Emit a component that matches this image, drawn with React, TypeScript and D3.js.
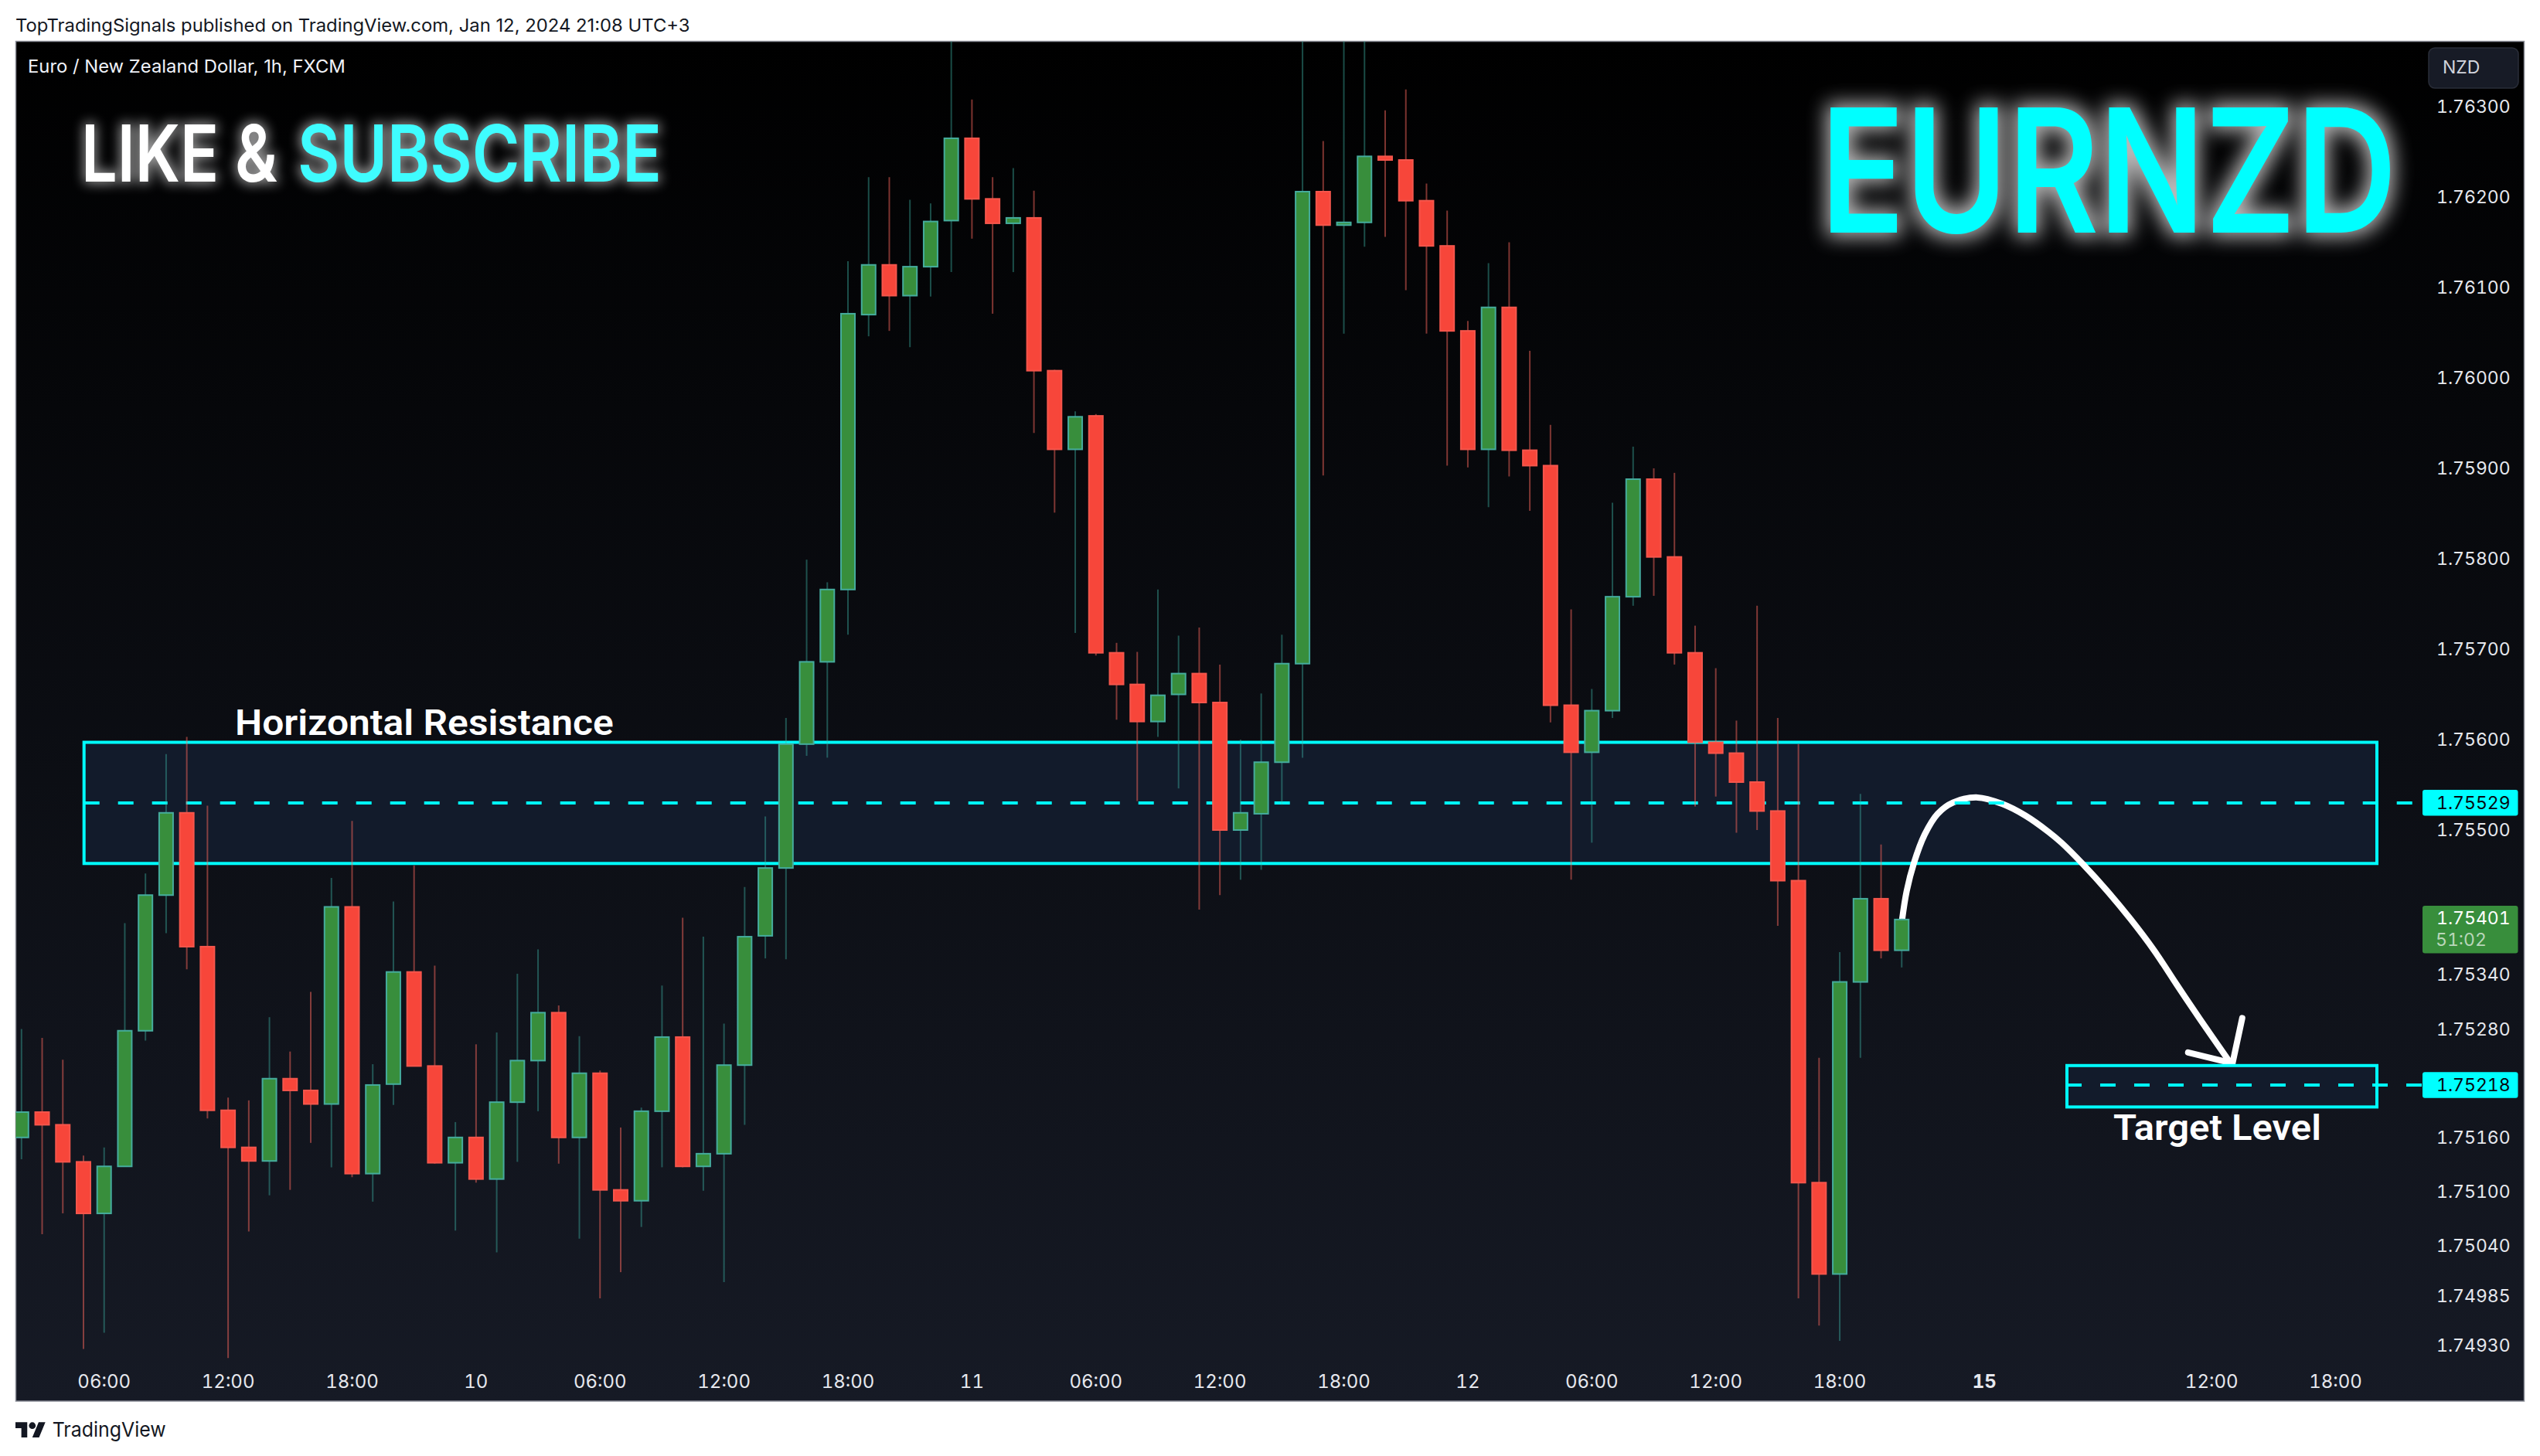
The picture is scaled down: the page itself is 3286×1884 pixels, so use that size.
import React, { useLayoutEffect, useRef } from "react";
import * as d3 from "d3";

const opens = [1.7516,1.75188,1.75174,1.75133,1.75076,1.75128,1.75278,1.75428,1.75519,1.75371,1.7519,1.75149,1.75134,1.75225,1.75212,1.75197,1.75415,1.7512,1.75219,1.75343,1.75239,1.75132,1.7516,1.75114,1.75199,1.75245,1.75298,1.7516,1.75231,1.75102,1.7509,1.75189,1.75271,1.75128,1.75142,1.7524,1.75383,1.75458,1.75595,1.75686,1.75766,1.7607,1.76125,1.76091,1.76123,1.76174,1.76265,1.76198,1.76171,1.76177,1.76008,1.75921,1.75958,1.75696,1.75661,1.7562,1.7565,1.75673,1.75641,1.755,1.75518,1.75575,1.75684,1.76206,1.76169,1.76172,1.76245,1.76241,1.76196,1.76146,1.76052,1.75921,1.76078,1.7592,1.75903,1.75638,1.75586,1.75632,1.75758,1.75888,1.75802,1.75696,1.75597,1.75585,1.75553,1.75521,1.75444,1.7511,1.75009,1.75332,1.75424,1.75367];
const highs = [1.7528,1.7527,1.75246,1.7514,1.75149,1.75397,1.75452,1.75584,1.75603,1.75527,1.75204,1.75201,1.75293,1.75255,1.75321,1.75447,1.7551,1.75241,1.75421,1.75461,1.7535,1.75177,1.75263,1.75276,1.75341,1.75368,1.75306,1.75272,1.75234,1.75171,1.75193,1.75328,1.75403,1.75382,1.75286,1.75437,1.75515,1.75624,1.75799,1.75774,1.76129,1.76222,1.76222,1.76197,1.76193,1.764,1.76308,1.76222,1.76232,1.76207,1.76009,1.75963,1.7596,1.75707,1.75697,1.75766,1.75715,1.75724,1.75683,1.756,1.75651,1.75716,1.764,1.76262,1.764,1.764,1.76296,1.76319,1.76215,1.76185,1.76063,1.76127,1.7615,1.7603,1.75948,1.75744,1.75656,1.75862,1.75924,1.759,1.75895,1.75726,1.75679,1.75621,1.75748,1.75624,1.75595,1.75248,1.75365,1.7554,1.75484,1.75402];
const lows = [1.75136,1.75053,1.75076,1.74926,1.74944,1.75128,1.75267,1.75386,1.75346,1.75181,1.74916,1.75056,1.75096,1.75102,1.75154,1.75127,1.75116,1.75089,1.75196,1.75239,1.75131,1.75057,1.7511,1.75033,1.75133,1.75189,1.75131,1.75048,1.74982,1.75011,1.75061,1.75127,1.75127,1.75101,1.75,1.75174,1.75358,1.75357,1.75582,1.7558,1.75716,1.76046,1.76052,1.76034,1.7609,1.76117,1.76154,1.76071,1.76117,1.75939,1.75851,1.75718,1.75693,1.75622,1.75532,1.75603,1.75546,1.75412,1.75428,1.75445,1.75456,1.75528,1.7558,1.75892,1.76049,1.76145,1.76156,1.76097,1.76049,1.75903,1.75901,1.75857,1.75891,1.75853,1.75619,1.75445,1.75486,1.75624,1.75748,1.75759,1.75683,1.75526,1.75537,1.75497,1.755,1.75394,1.74982,1.74952,1.74935,1.75248,1.75358,1.75348];
const closes = [1.75188,1.75174,1.75133,1.75076,1.75128,1.75278,1.75428,1.75519,1.75371,1.7519,1.75149,1.75134,1.75225,1.75212,1.75197,1.75415,1.7512,1.75218,1.75343,1.75239,1.75132,1.7516,1.75114,1.75199,1.75245,1.75298,1.7516,1.75231,1.75102,1.7509,1.75189,1.75271,1.75128,1.75142,1.7524,1.75382,1.75458,1.75595,1.75686,1.75766,1.76071,1.76125,1.76091,1.76123,1.76173,1.76265,1.76198,1.76171,1.76177,1.76008,1.75921,1.75957,1.75696,1.75661,1.7562,1.75649,1.75673,1.75641,1.755,1.75519,1.75575,1.75684,1.76206,1.76169,1.76172,1.76245,1.76241,1.76196,1.76146,1.76052,1.75921,1.76078,1.7592,1.75903,1.75638,1.75586,1.75632,1.75758,1.75888,1.75802,1.75696,1.75597,1.75585,1.75553,1.75521,1.75444,1.7511,1.75009,1.75332,1.75424,1.75367,1.75401];

const priceTicks = [1.763,1.762,1.761,1.76,1.759,1.758,1.757,1.756,1.755,1.7534,1.7528,1.7516,1.751,1.7504,1.74985,1.7493];
const timeTickIndex = [4,10,16,22,28,34,40,46,52,58,64,70,76,82,88,95,106,112];
const timeTickLabels = ["06:00","12:00","18:00","10","06:00","12:00","18:00","11","06:00","12:00","18:00","12","06:00","12:00","18:00","15","12:00","18:00"];

const resistanceTop = 1.75597;
const resistanceBottom = 1.75463;
const resistanceMid = 1.7553;
const targetTop = 1.752395;
const targetBottom = 1.751937;
const targetMid = 1.75218;

const curveIndex = [91.02,91.24,91.59,92.11,92.74,93.49,94.67,95.85,96.98,98.1,98.73,99.78,100.97,102.09,103.21,104.34,105.46,106.89];
const curvePrice = [1.75401,1.754325,1.754635,1.75495,1.75518,1.755305,1.75536,1.75529,1.75516,1.75498,1.75486,1.75462,1.75432,1.75401,1.75367,1.75328,1.7529,1.75243];
const headIndex = [104.86,107.01,107.48];
const headPrice = [1.75254,1.75242,1.75292];

const W = 3286, H = 1884;
const L = 20.5, R = 3265.5, T = 53.5, B = 1813;

const x = d3.scaleLinear().domain([0, 112]).range([27.8, 3021.6]);
const y = d3.scaleLinear().domain([1.763, 1.7493]).range([138, 1740.9]);

const CYAN = "#00ffff";
const AXIS = "Inter, 'Noto Sans', sans-serif";
const TNUM: React.CSSProperties = { fontFeatureSettings: "'tnum' 1" };

const curvePath = d3.line<number>().x(d => x(curveIndex[d])).y(d => y(curvePrice[d])).curve(d3.curveCatmullRom.alpha(0.5))(curveIndex.map((_, i) => i)) || "";
const headPath = d3.line<number>().x(d => x(headIndex[d])).y(d => y(headPrice[d]))(headIndex.map((_, i) => i)) || "";

function FitText({ px, py, width, children, ...rest }: any) {
  const ref = useRef<SVGTextElement>(null);
  useLayoutEffect(() => {
    const n = ref.current;
    if (!n) return;
    const len = n.getComputedTextLength();
    d3.select(n).attr("transform", `translate(${px},${py}) scale(${width / len},1)`);
  });
  return <text ref={ref} x={0} y={0} transform={`translate(${px},${py})`} {...rest}>{children}</text>;
}

export default function App() {
  const bw = 18;
  return (
    <svg width={W} height={H} viewBox={`0 0 ${W} ${H}`} style={{ position: "absolute", left: 0, top: 0, display: "block", background: "#fff" }}>
      <defs>
        <linearGradient id="bg" x1="0" y1="0" x2="0" y2="1">
          <stop offset="0" stopColor="#000000" />
          <stop offset="1" stopColor="#161a25" />
        </linearGradient>
        <clipPath id="plot"><rect x={L} y={T} width={R - L} height={B - T} /></clipPath>
        <filter id="glow" filterUnits="userSpaceOnUse" x="2280" y="60" width="900" height="320" colorInterpolationFilters="sRGB">
          <feMorphology in="SourceAlpha" operator="dilate" radius="5" result="m" />
          <feGaussianBlur in="m" stdDeviation="13" result="b" />
          <feFlood floodColor="#ffffff" floodOpacity="0.72" />
          <feComposite in2="b" operator="in" result="g" />
          <feMerge><feMergeNode in="g" /><feMergeNode in="SourceGraphic" /></feMerge>
        </filter>
        <filter id="glow2" filterUnits="userSpaceOnUse" x="60" y="110" width="840" height="180" colorInterpolationFilters="sRGB">
          <feMorphology in="SourceAlpha" operator="dilate" radius="2" result="m" />
          <feGaussianBlur in="m" stdDeviation="8" result="b" />
          <feFlood floodColor="#ffffff" floodOpacity="0.62" />
          <feComposite in2="b" operator="in" result="g" />
          <feMerge><feMergeNode in="g" /><feMergeNode in="SourceGraphic" /></feMerge>
        </filter>
      </defs>

      <FitText px={20} py={41} width={873} fontFamily={AXIS} fontSize={23} fill="#131722">TopTradingSignals published on TradingView.com, Jan 12, 2024 21:08 UTC+3</FitText>

      <rect x={L} y={T} width={R - L} height={B - T} fill="url(#bg)" stroke="#8a8d96" strokeWidth={1.5} />

      <FitText px={36} py={94} width={411} fontFamily={AXIS} fontSize={23} fill="#f0f3fa">Euro / New Zealand Dollar, 1h, FXCM</FitText>

      <g filter="url(#glow2)" fontFamily={AXIS} fontWeight={600} fontSize={102}>
        <FitText px={105} py={235} width={254} fill="#ffffff">LIKE &amp;</FitText>
        <FitText px={385} py={235} width={471} fill="#3ffcff">SUBSCRIBE</FitText>
      </g>
      <g filter="url(#glow)">
        <FitText px={2355} py={300.7} width={746} fontFamily={AXIS} fontWeight={600} fontSize={223} fill={CYAN}>EURNZD</FitText>
      </g>

      {/* zones, curve, then dashed levels and candles on top */}
      <rect x={108.7} y={y(resistanceTop)} width={3075 - 108.7} height={y(resistanceBottom) - y(resistanceTop)} fill="#121b2b" stroke={CYAN} strokeWidth={4} />
      <path d={curvePath} fill="none" stroke="#fff" strokeWidth={8} strokeLinecap="round" />
      <path d={headPath} fill="none" stroke="#fff" strokeWidth={8} strokeLinecap="round" strokeLinejoin="round" />
      <rect x={2674} y={y(targetTop)} width={3075 - 2674} height={y(targetBottom) - y(targetTop)} fill="#121b2b" stroke={CYAN} strokeWidth={4} />
      <line x1={108.7} x2={3134} y1={y(resistanceMid)} y2={y(resistanceMid)} stroke={CYAN} strokeWidth={4} strokeDasharray="20 24" />
      <line x1={2673} x2={3134} y1={y(targetMid)} y2={y(targetMid)} stroke={CYAN} strokeWidth={4} strokeDasharray="20 24" />

      <g clipPath="url(#plot)">
        {opens.map((o, i) => {
          const c = closes[i];
          const up = c >= o;
          const top = y(Math.max(o, c));
          const bot = y(Math.min(o, c));
          return (
            <g key={i}>
              <line x1={x(i)} x2={x(i)} y1={y(highs[i])} y2={y(lows[i])} strokeWidth={2}
                stroke={up ? "#3fb5a8" : "#f7665c"} strokeOpacity={up ? 0.42 : 0.5} />
              <rect x={x(i) - bw / 2} y={top} width={bw} height={Math.max(bot - top, 2)}
                fill={up ? "#388e3c" : "#f7463a"} stroke={up ? "#45ac9d" : "#f5564c"} strokeWidth={2} />
            </g>
          );
        })}
      </g>

      <FitText px={304} py={951} width={490} fontFamily="Roboto, sans-serif" fontWeight={600} fontSize={46} fill="#fff">Horizontal Resistance</FitText>
      <FitText px={2734} py={1475} width={269} fontFamily="Roboto, sans-serif" fontWeight={600} fontSize={46} fill="#fff">Target Level</FitText>

      {/* price axis */}
      {priceTicks.map(p => (
        <text key={p} x={3152} y={y(p)} dy=".36em" fontFamily={AXIS} fontSize={23} fill="#e6e8ee" style={TNUM}>{p.toFixed(5)}</text>
      ))}
      <rect x={3134} y={1022} width={123.5} height={33.5} rx={3} fill={CYAN} />
      <text x={3152} y={y(resistanceMid)} dy=".36em" fontFamily={AXIS} fontSize={23} fill="#06090f" style={TNUM}>1.75529</text>
      <rect x={3134} y={y(targetMid) - 16.8} width={123.5} height={33.5} rx={3} fill={CYAN} />
      <text x={3152} y={y(targetMid)} dy=".36em" fontFamily={AXIS} fontSize={23} fill="#06090f" style={TNUM}>1.75218</text>
      <rect x={3134} y={1172} width={123.5} height={61.5} rx={3} fill="#388e3c" />
      <text x={3152} y={1188} dy=".36em" fontFamily={AXIS} fontSize={23} fill="#ffffff" style={TNUM}>1.75401</text>
      <text x={3151} y={1216} dy=".36em" fontFamily={AXIS} fontSize={23} fill="#b9d6ba" style={TNUM}>51:02</text>

      <rect x={3142} y={62} width={116} height={52} rx={8} fill="#171b26" stroke="#2a2e39" strokeWidth={1.5} />
      <text x={3160} y={87} dy=".36em" fontFamily={AXIS} fontSize={23} fill="#d1d4dc">NZD</text>

      {/* time axis */}
      {timeTickIndex.map((t, i) => (
        <text key={i} x={x(t)} y={1787} dy=".36em" textAnchor="middle" fontFamily={AXIS} fontSize={24} style={TNUM}
          fontWeight={timeTickLabels[i] === "15" ? 700 : 400} fill="#e6e8ee">{timeTickLabels[i]}</text>
      ))}

      {/* footer */}
      <g transform="translate(20,1836) scale(1.09)" fill="#131722">
        <path d="M14 22H7V11H0V4h14v18zM28 22h-8l7.5-18h8L28 22z" />
        <circle cx="20" cy="8" r="4" />
      </g>
      <FitText px={67.7} py={1859} width={147} fontFamily={AXIS} fontSize={26} fill="#131722">TradingView</FitText>
    </svg>
  );
}
